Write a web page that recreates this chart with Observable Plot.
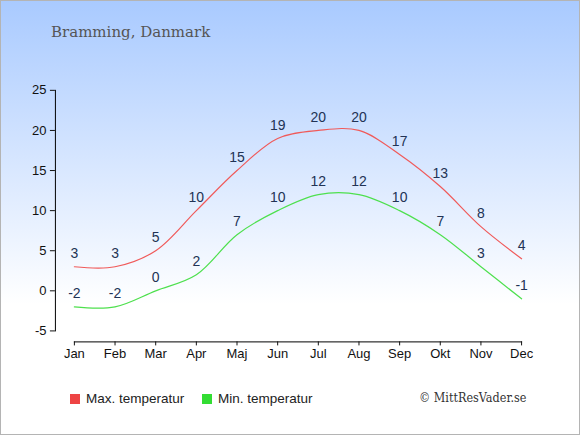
<!DOCTYPE html>
<html>
<head>
<meta charset="utf-8">
<script src="https://cdn.jsdelivr.net/npm/d3@7"></script>
<script src="https://cdn.jsdelivr.net/npm/@observablehq/plot@0.6"></script>
<style>
  html, body { margin: 0; padding: 0; }
  #wrap {
    position: relative; width: 580px; height: 435px; box-sizing: border-box;
    border: 1px solid #b4b4b4;
    background: linear-gradient(to bottom, #a9caff 0%, #ffffff 70%, #ffffff 100%);
    overflow: hidden;
  }
  #title {
    position: absolute; left: 50px; top: 22px;
    font-family: "DejaVu Serif", serif; font-size: 15px; color: #555;
  }
  #chart { position: absolute; left: -1px; top: -1px; }
  #chart svg { background: transparent; }
  .leg { position: absolute; top: 390px; font-family: "Liberation Sans", Arial, sans-serif; font-size: 13.5px; color: #222; display: flex; align-items: center; }
  .sw { width: 10px; height: 10px; margin-right: 6px; }
  #copy { position: absolute; left: 418px; top: 389px; font-family: "DejaVu Serif", serif; font-stretch: condensed; font-size: 12.5px; color: #333; }
</style>
</head>
<body>
<div id="wrap">
  <div id="title">Bramming, Danmark</div>
  <div id="chart"></div>
  <div class="leg" style="left:69px"><div class="sw" style="background:#ee4444"></div>Max. temperatur</div>
  <div class="leg" style="left:201px"><div class="sw" style="background:#33dd33"></div>Min. temperatur</div>
  <div id="copy">© MittResVader.se</div>
</div>
<script>
const months = ["Jan","Feb","Mar","Apr","Maj","Jun","Jul","Aug","Sep","Okt","Nov","Dec"];
const maxTemp = [3,3,5,10,15,19,20,20,17,13,8,4];
const minTemp = [-2,-2,0,2,7,10,12,12,10,7,3,-1];
const yTicks = [-5,0,5,10,15,20,25];

const maxData = months.map((m,i) => ({month: m, t: maxTemp[i]}));
const minData = months.map((m,i) => ({month: m, t: minTemp[i]}));

const chart = Plot.plot({
  width: 580, height: 375,
  marginTop: 90, marginLeft: 55, marginRight: 58, marginBottom: 33,
  insetBottom: 11, insetLeft: 19,
  style: {background: "transparent", fontFamily: "Liberation Sans, Arial, sans-serif", fontSize: "13px", color: "#111", overflow: "visible"},
  x: {type: "point", domain: months, padding: 0, round: false},
  y: {domain: [-5, 25]},
  marks: [
    Plot.frame({anchor: "left", insetBottom: 11, stroke: "#000"}),
    Plot.frame({anchor: "bottom", insetLeft: 19, stroke: "#000"}),
    Plot.axisY({ticks: yTicks, tickSize: 5, tickPadding: 4, label: null, fontSize: 13, tickFormat: d => String(d)}),
    Plot.axisX({tickSize: 4, tickPadding: 3, label: null, fontSize: 13}),
    Plot.line(maxData, {x: "month", y: "t", stroke: "#f05a5a", strokeWidth: 1.2, curve: "catmull-rom"}),
    Plot.line(minData, {x: "month", y: "t", stroke: "#4ee04e", strokeWidth: 1.2, curve: "catmull-rom"}),
    Plot.text(maxData, {x: "month", y: "t", text: d => String(d.t), dy: -13, fill: "#223355", fontSize: 14}),
    Plot.text(minData, {x: "month", y: "t", text: d => String(d.t), dy: -13, fill: "#223355", fontSize: 14})
  ]
});
document.getElementById("chart").appendChild(chart);
</script>
</body>
</html>
